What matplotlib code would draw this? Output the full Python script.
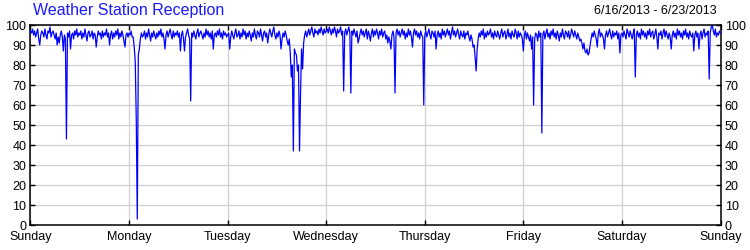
import numpy as np
import matplotlib
matplotlib.use("Agg")
import matplotlib.pyplot as plt

plt.rcParams['font.family'] = ['Liberation Sans', 'DejaVu Sans']

# reception (%) sampled every 15 minutes, one list per day, Sunday 6/16 .. Saturday 6/22
sun = [97, 96, 98, 95, 97, 94, 96, 98, 93, 90, 95, 97, 96, 94, 98, 95, 93, 97, 96, 99, 94, 96, 97, 95,
       93, 96, 90, 94, 91, 95, 97, 94, 87, 95, 93, 43, 96, 94, 97, 88, 95, 96, 93, 97, 95, 98, 94, 96,
       95, 97, 93, 96, 94, 98, 95, 92, 96, 97, 94, 95, 97, 93, 96, 95, 89, 94, 97, 95, 96, 93, 97, 94,
       96, 95, 98, 94, 96, 90, 95, 97, 93, 96, 94, 97, 95, 98, 93, 96, 94, 97, 95, 92, 89, 95, 96, 94]
mon = [96, 95, 97, 94, 94, 89, 82, 53, 3, 85, 88, 93, 96, 94, 95, 97, 93, 96, 94, 98, 95, 92, 96, 94,
       97, 95, 93, 96, 94, 97, 95, 98, 94, 96, 93, 88, 95, 97, 94, 96, 98, 95, 93, 97, 94, 96, 95, 97,
       94, 96, 87, 95, 97, 93, 87, 94, 96, 98, 95, 93, 62, 96, 94, 97, 95, 93, 96, 98, 94, 96, 97, 95,
       93, 96, 94, 98, 95, 97, 94, 96, 93, 97, 88, 95, 96, 94, 97, 95, 98, 94, 96, 93, 97, 95, 96, 94]
tue = [95, 96, 88, 94, 97, 95, 93, 96, 98, 94, 95, 97, 93, 96, 94, 98, 95, 97, 93, 96, 94, 97, 95, 92,
       96, 94, 98, 95, 93, 97, 96, 94, 98, 95, 92, 96, 97, 94, 96, 91, 95, 98, 96, 94, 97, 99, 95, 93,
       96, 94, 97, 95, 88, 93, 96, 94, 97, 95, 92, 90, 93, 86, 74, 80, 37, 88, 86, 85, 77, 80, 37, 66,
       88, 78, 91, 95, 97, 94, 96, 98, 95, 97, 99, 96, 94, 98, 96, 97, 95, 98, 96, 99, 97, 95, 98, 96]
wed = [97, 98, 96, 99, 97, 95, 98, 96, 99, 97, 94, 98, 96, 97, 99, 95, 97, 67, 96, 98, 95, 97, 99, 96,
       66, 97, 95, 98, 96, 94, 97, 91, 93, 96, 98, 95, 97, 94, 96, 98, 93, 97, 95, 92, 96, 98, 94, 97,
       95, 98, 96, 93, 97, 95, 98, 94, 96, 97, 93, 95, 91, 94, 92, 88, 95, 97, 94, 66, 96, 98, 95, 97,
       94, 96, 98, 95, 97, 93, 96, 94, 98, 95, 97, 94, 89, 96, 98, 95, 97, 94, 96, 93, 97, 95, 94, 60]
thu = [95, 97, 94, 96, 98, 95, 93, 97, 96, 94, 97, 88, 95, 97, 94, 96, 93, 98, 95, 97, 94, 96, 98, 95,
       97, 93, 96, 99, 95, 97, 94, 96, 98, 95, 93, 97, 95, 94, 97, 93, 96, 95, 97, 94, 92, 95, 93, 89,
       90, 84, 77, 88, 93, 96, 94, 97, 95, 98, 93, 96, 94, 97, 95, 96, 98, 94, 96, 93, 97, 95, 94, 97,
       95, 93, 96, 98, 94, 96, 97, 93, 95, 98, 94, 96, 93, 97, 95, 94, 98, 96, 93, 97, 94, 96, 95, 93]
fri = [87, 95, 97, 93, 96, 94, 92, 95, 88, 94, 60, 93, 96, 95, 92, 97, 94, 96, 46, 95, 97, 93, 96, 98,
       94, 96, 93, 97, 95, 98, 94, 96, 93, 97, 95, 92, 96, 94, 98, 95, 93, 97, 96, 94, 97, 93, 95, 98,
       96, 94, 97, 95, 93, 96, 94, 92, 93, 91, 88, 91, 87, 86, 88, 85, 86, 90, 93, 96, 94, 97, 95, 93,
       89, 96, 98, 94, 96, 95, 93, 88, 95, 97, 94, 96, 98, 95, 93, 97, 94, 96, 95, 97, 93, 96, 86, 95]
sat = [96, 94, 97, 95, 93, 98, 96, 94, 97, 95, 93, 96, 98, 74, 95, 97, 94, 96, 93, 98, 95, 97, 94, 96,
       93, 97, 95, 98, 94, 96, 97, 93, 95, 98, 94, 88, 96, 95, 97, 93, 96, 98, 94, 97, 95, 93, 96, 94,
       88, 95, 97, 94, 96, 93, 98, 95, 97, 94, 96, 93, 97, 95, 98, 94, 96, 93, 97, 95, 94, 96, 87, 95,
       97, 94, 96, 88, 95, 97, 93, 96, 98, 94, 96, 95, 97, 73, 96, 99, 100, 97, 95, 98, 94, 96, 95, 97]
last = [96]

reception = np.array(sun + mon + tue + wed + thu + fri + sat + last, dtype=float)
t = np.arange(len(reception)) / 96.0  # days since Sunday 00:00

day_labels = ['Sunday', 'Monday', 'Tuesday', 'Wednesday', 'Thursday',
              'Friday', 'Saturday', 'Sunday']

fig = plt.figure(figsize=(7.5, 2.5), dpi=100)
ax = fig.add_axes([30.5 / 750, 25 / 250, 690 / 750, 200 / 250])

ax.plot(t, reception, color='#0000ff', linewidth=0.9, zorder=3)

ax.set_xlim(0, 7)
ax.set_ylim(0, 100)
ax.set_xticks(np.arange(8))
ax.set_xticklabels(day_labels)
ax.set_yticks(np.arange(0, 101, 10))

ax.grid(True, color='#d0d0d0', linewidth=0.9, zorder=0)
ax.set_axisbelow(True)
for s in ax.spines.values():
    s.set_linewidth(1.1)
    s.set_color('black')

ax.tick_params(axis='both', direction='in', length=3.3, width=1,
               labelsize=9, colors='black')
ax.tick_params(axis='x', top=True, pad=4.5)
ax.tick_params(axis='y', right=True, labelright=True, pad=3)

fig.text(33 / 750, 1 - 11 / 250, 'Weather Station Reception', color='#1a1aff',
         fontsize=11.5, ha='left', va='center')
fig.text(717 / 750, 1 - 11 / 250, '6/16/2013 - 6/23/2013', color='black',
         fontsize=9, ha='right', va='center')

fig.savefig('out.png', dpi=100)
